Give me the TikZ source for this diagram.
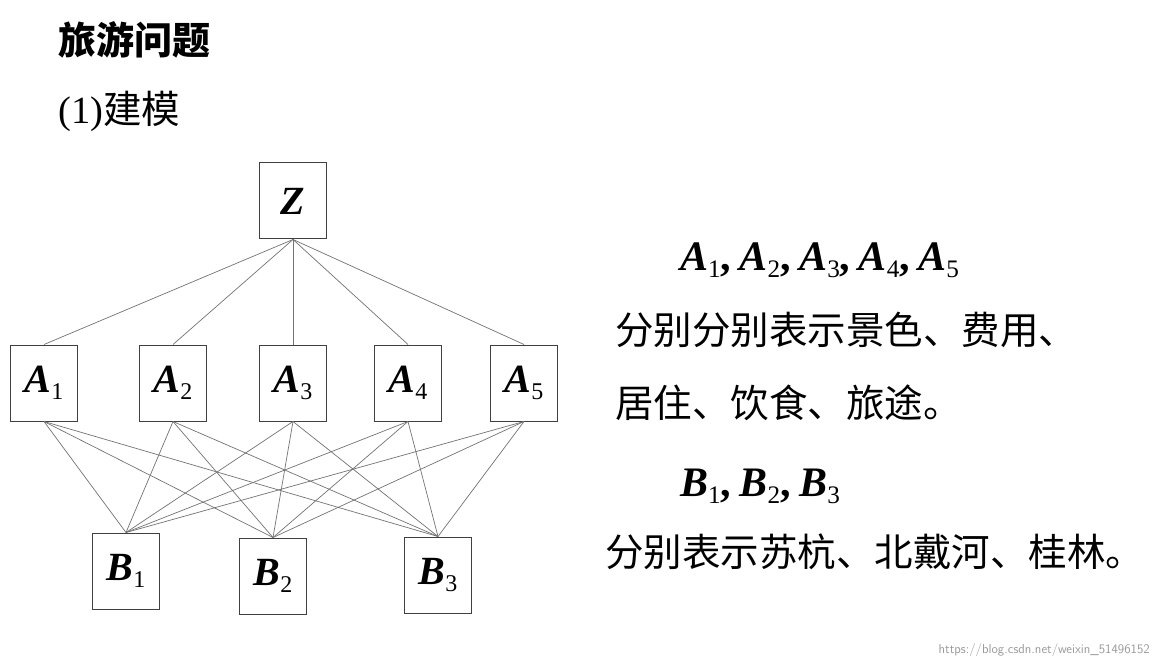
\documentclass[tikz,border=0pt]{standalone}
\usepackage{fontspec}
\setmainfont{Liberation Serif}
\newfontfamily\cjk{Noto Sans CJK SC}
\newcommand{\vv}[2]{{\bfseries\itshape #1}\raisebox{-0.35ex}{\fontsize{0.6em}{0.6em}\selectfont #2}}
\newcommand{\cm}{\textbf{,}\hspace{0.2em}}
\begin{document}
\begin{tikzpicture}[x=1pt,y=-1pt,
  bx/.style={draw=black!75,line width=1pt,minimum width=67pt,minimum height=76pt,inner sep=0pt,font=\fontsize{40}{40}\selectfont},
  ln/.style={draw=black!55,line width=0.7pt},
  tx/.style={anchor=west,inner sep=0pt,font=\cjk\fontsize{38.5}{38.5}\selectfont}]
\useasboundingbox[fill=white] (0,0) rectangle (1159,668);
\node[tx,font=\cjk\bfseries\fontsize{38}{38}\selectfont] (t1) at (58,40) {旅游问题};
\node[tx] (t2) at (58,111) {{\rmfamily(1)}建模};
\node[bx] (Z) at (293,201) {\bfseries\itshape Z};
\node[bx] (A1) at (44,383) {\vv{A}{1}};
\node[bx] (A2) at (173,383) {\vv{A}{2}};
\node[bx] (A3) at (293,383) {\vv{A}{3}};
\node[bx] (A4) at (408,383) {\vv{A}{4}};
\node[bx] (A5) at (524,383) {\vv{A}{5}};
\node[bx] (B1) at (126,571) {\vv{B}{1}};
\node[bx] (B2) at (273,576) {\vv{B}{2}};
\node[bx] (B3) at (438,575) {\vv{B}{3}};
\foreach \a in {A1,A2,A3,A4,A5}{
  \draw[ln] (Z.south) -- (\a.north);
  \foreach \b in {B1,B2,B3}{\draw[ln] (\a.south) -- (\b.north);}
}
\node[anchor=west,inner sep=0pt,font=\fontsize{42}{42}\selectfont] (r1) at (680,260) {\vv{A}{1}\cm\vv{A}{2}\cm\vv{A}{3}\cm\vv{A}{4}\cm\vv{A}{5}};
\node[tx] (r2) at (615,330) {分别分别表示景色、费用、};
\node[tx] (r3) at (615,403) {居住、饮食、旅途。};
\node[anchor=west,inner sep=0pt,font=\fontsize{42}{42}\selectfont] (r4) at (680,486) {\vv{B}{1}\cm\vv{B}{2}\cm\vv{B}{3}};
\node[tx] (r5) at (605,552) {分别表示苏杭、北戴河、桂林。};
\node[anchor=east,inner sep=0pt,text=black!40,font=\sffamily\fontsize{13}{13}\selectfont] (w) at (1150,650) {https://blog.csdn.net/weixin\_51496152};
\end{tikzpicture}
\end{document}
